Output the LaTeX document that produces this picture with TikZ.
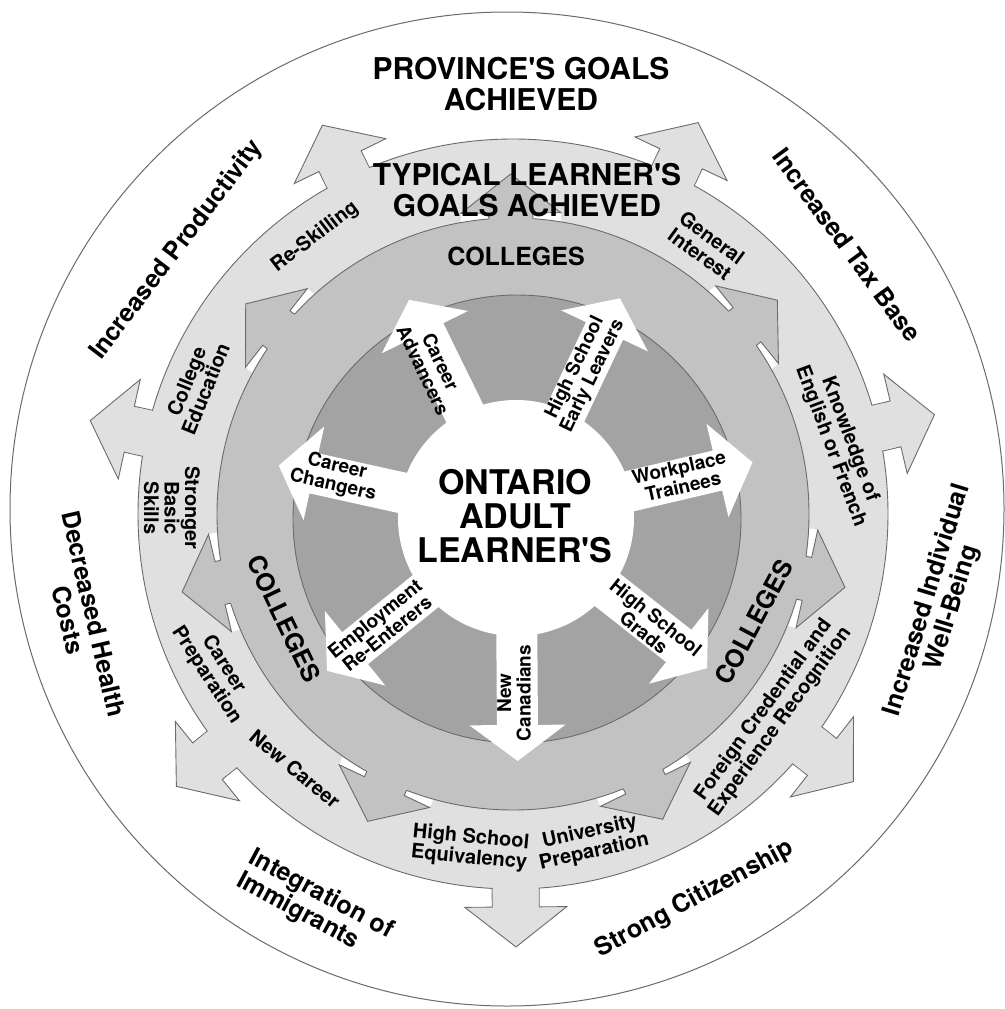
\documentclass[tikz,border=0pt]{standalone}
\usepackage{fontspec}
\setmainfont{TeX Gyre Heros}
\definecolor{ringL}{gray}{0.88}
\definecolor{ringM}{gray}{0.76}
\definecolor{ringD}{gray}{0.64}
\definecolor{edgec}{gray}{0.42}
\tikzset{
  edgeline/.style={draw=edgec, line width=0.9pt, line join=miter},
  lbl/.style={font=\bfseries\fontsize{20}{20.5}\selectfont, align=center, inner sep=0pt},
  inlbl/.style={font=\bfseries\fontsize{19}{19.5}\selectfont, align=center, inner sep=0pt},
  outlbl/.style={font=\bfseries\fontsize{25}{26}\selectfont, align=center, inner sep=0pt},
  titlelbl/.style={font=\bfseries\fontsize{30}{31}\selectfont, align=center, inner sep=0pt},
  centerlbl/.style={font=\bfseries\fontsize{34}{34}\selectfont, align=center, inner sep=0pt},
  coll/.style={font=\bfseries\fontsize{25}{26}\selectfont, inner sep=0pt},
}
\begin{document}
\begin{tikzpicture}[x=1pt,y=-1pt]
\useasboundingbox (0,0) rectangle (1004,1009);
\fill[white] (0,0) rectangle (1004,1009);
\draw[edgec, line width=1pt] (507,509) circle[radius=497pt];
% ---------- outer two rings ----------
\begin{scope}[shift={(513,514)}, y=1pt]
  \foreach \a in {0,...,6} {
    \begin{scope}[rotate={270.4+51.4286*\a}]
      \filldraw[fill=ringL, edgeline] (360,-23.5) -- (393,-23.5) -- (393,-51) -- (433,0) -- (393,51) -- (393,23.5) -- (360,23.5) -- cycle;
    \end{scope}
  }
  \filldraw[fill=ringL, edgeline] (0,0) circle[radius=375pt];
  \foreach \a in {0,...,6} {
    \fill[ringL, rotate={270.4+51.4286*\a}] (362,-22.9) rectangle (388,22.9);
  }
  % white notches behind the mid arrow heads
  \foreach \a in {0,...,6} {
    \fill[white, rotate={90.4+51.4286*\a}] (285,-50) rectangle (301,50);
  }
  \filldraw[fill=ringM, edgeline] (0,0) circle[radius=296pt];
  \foreach \a in {0,...,6} {
    \begin{scope}[rotate={90.4+51.4286*\a}]
      \fill[ringM] (285,-22) -- (301,-22) -- (301,-50) -- (340,0) -- (301,50) -- (301,22) -- (285,22) -- cycle;
      \draw[edgeline] (295.2,-22) -- (301,-22) -- (301,-50) -- (340,0) -- (301,50) -- (301,22) -- (295.2,22);
    \end{scope}
  }
\end{scope}
% ---------- inner rings and white arrows ----------
\begin{scope}[shift={(516,518)}, y=1pt]
  \filldraw[fill=ringD, edgeline] (1,-1) circle[radius=224pt];
  \fill[white] (0,0) circle[radius=118pt];
  \foreach \a in {0,...,6} {
    \begin{scope}[rotate={270.4+51.4286*\a}]
      \fill[white] (0,-20.5) -- (207,-20.5) -- (207,-48) -- (243,0) -- (207,48) -- (207,20.5) -- (0,20.5) -- cycle;
    \end{scope}
  }
\end{scope}
% ---------- titles ----------
\node[titlelbl] (prov) at (521,84) {PROVINCE\textquotesingle S GOALS\\ACHIEVED};
\node[titlelbl] (typ) at (527,190) {TYPICAL LEARNER\textquotesingle S\\GOALS ACHIEVED};
\node[centerlbl] (ont) at (515,516) {ONTARIO\\ADULT\\LEARNER\textquotesingle S};
\node[coll] (colT) at (516,256) {COLLEGES};
\node[coll, rotate=-64.5] (colL) at (284,619) {COLLEGES};
\node[coll, rotate=62] (colR) at (754,622) {COLLEGES};
% ---------- inner arrow labels ----------
\node[inlbl, rotate=-64.3] (ca) at (432,366) {Career\\Advancers};
\node[inlbl, rotate=64.3] (hsel) at (584,372) {High School\\Early Leavers};
\node[inlbl, rotate=12.9] (wt) at (681,477) {Workplace\\Trainees};
\node[inlbl, rotate=-38.6] (hsg) at (650,625) {High School\\Grads};
\node[inlbl, rotate=90] (nc) at (514,693) {New\\Canadians};
\node[inlbl, rotate=38.6] (ere) at (381,626) {Employment\\Re-Enterers};
\node[inlbl, rotate=-12.9] (cc) at (335,476) {Career\\Changers};
% ---------- light ring labels ----------
\node[lbl, rotate=37.4] (rs) at (315,237) {Re-Skilling};
\node[lbl, rotate=-36] (gi) at (706,246) {General\\Interest};
\node[lbl, rotate=-69.5] (kef) at (840,443) {Knowledge of\\English or French};
\node[lbl, rotate=54] (fc) at (772,716) {Foreign Credential and\\Experience Recognition};
\node[lbl, rotate=12.4] (up) at (592,842) {University\\Preparation};
\node[lbl, rotate=-5.5] (hse) at (470,848) {High School\\Equivalency};
\node[lbl, rotate=-39.8] (ncar) at (295,769) {New Career};
\node[lbl, rotate=-57] (cp) at (215,670) {Career\\Preparation};
\node[lbl, rotate=-90] (sbs) at (172,508) {Stronger\\Basic\\Skills};
\node[lbl, rotate=68] (ce) at (196,385) {College\\Education};
% ---------- outer labels ----------
\node[outlbl, rotate=52.8] (ip) at (177,250) {Increased Productivity};
\node[outlbl, rotate=-53.7] (itb) at (847,245) {Increased Tax Base};
\node[outlbl, rotate=73] (iiw) at (940,604) {Increased Individual\\Well-Being};
\node[outlbl, rotate=-77] (dhc) at (81,617) {Decreased Health\\Costs};
\node[outlbl, rotate=-28.3, align=left] (ii) at (315,906) {Integration of\\Immigrants};
\node[outlbl, rotate=28.3] (sc) at (695,899) {Strong Citizenship};
\end{tikzpicture}
\end{document}
